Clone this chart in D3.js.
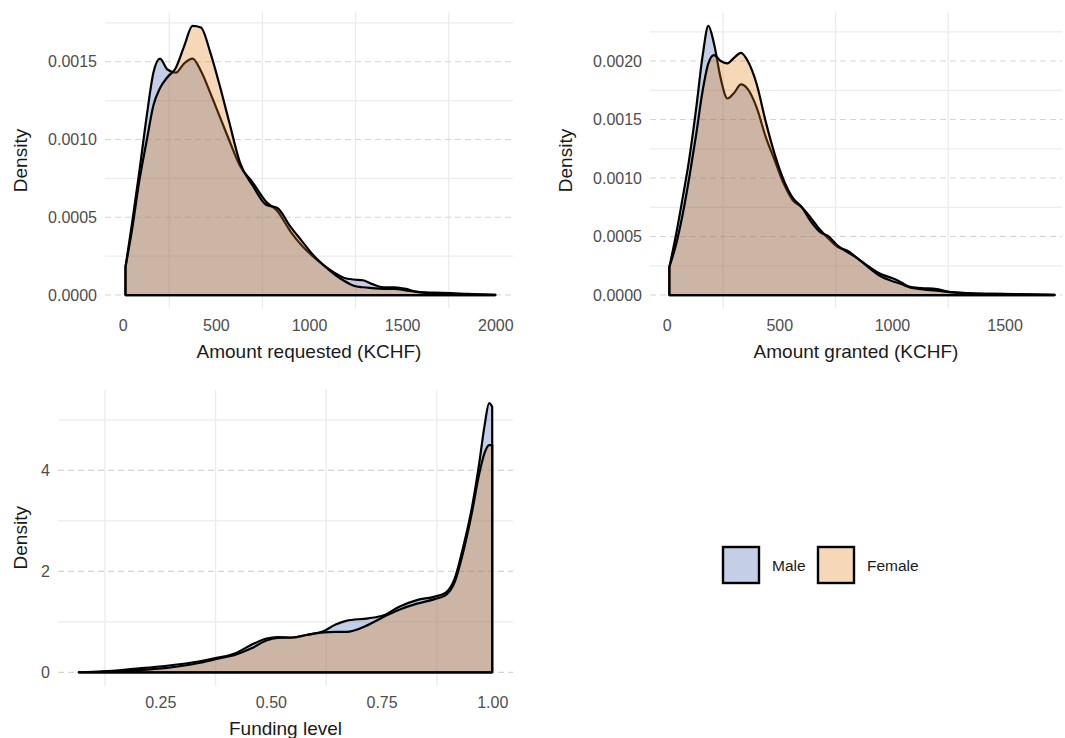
<!DOCTYPE html>
<html>
<head>
<meta charset="utf-8">
<script src="https://cdn.jsdelivr.net/npm/d3@7"></script>
<style>
  body { margin: 0; background: #fff; }
  text { font-family: "Liberation Sans", Arial, sans-serif; }
</style>
</head>
<body>
<script>
// Amount requested (KCHF) density, x grid + density (x 1e-4) per gender
var reqX = [15, 50, 90, 130, 165, 200, 240, 285, 330, 375, 420, 470, 520, 570, 630, 700, 770, 830, 900, 960, 1020, 1080, 1140, 1190, 1240, 1290, 1340, 1400, 1460, 1520, 1580, 1670, 1760, 1850, 2000];
var reqMale = [1.8, 4.6, 8.0, 11.6, 14.3, 15.2, 14.5, 14.3, 14.9, 15.2, 14.4, 13.0, 11.5, 10.0, 8.3, 7.2, 6.0, 5.4, 4.1, 3.2, 2.5, 1.9, 1.4, 1.1, 1.0, 0.95, 0.7, 0.5, 0.5, 0.4, 0.2, 0.15, 0.13, 0.07, 0.01];
var reqFemale = [1.8, 4.2, 7.4, 10.0, 12.2, 13.3, 14.0, 14.6, 16.0, 17.3, 17.2, 15.6, 13.5, 11.2, 8.5, 7.0, 5.8, 5.6, 4.4, 3.5, 2.6, 1.9, 1.3, 0.9, 0.6, 0.5, 0.45, 0.4, 0.4, 0.3, 0.2, 0.1, 0.06, 0.04, 0.01];

// Amount granted (KCHF)
var grantX = [12, 40, 70, 100, 130, 160, 185, 210, 240, 270, 300, 330, 360, 400, 440, 480, 520, 560, 600, 640, 680, 720, 760, 800, 850, 900, 950, 1000, 1040, 1080, 1130, 1200, 1260, 1350, 1450, 1550, 1722];
var grantMale = [2.4, 5.0, 8.2, 11.6, 15.8, 20.5, 23.0, 21.5, 18.5, 16.8, 17.3, 18.0, 17.6, 16.0, 13.5, 11.5, 9.5, 8.1, 7.5, 6.6, 5.6, 4.8, 4.1, 3.8, 3.1, 2.4, 1.8, 1.45, 1.1, 0.7, 0.6, 0.5, 0.25, 0.15, 0.1, 0.08, 0.02];
var grantFemale = [2.4, 4.2, 6.8, 10.0, 13.6, 17.5, 19.8, 20.5, 20.0, 19.8, 20.3, 20.7, 20.0, 18.0, 14.8, 12.0, 9.8, 8.3, 7.5, 6.3, 5.4, 5.0, 4.2, 3.7, 3.1, 2.3, 1.6, 1.2, 0.95, 0.65, 0.5, 0.38, 0.25, 0.14, 0.1, 0.06, 0.02];

// Funding level
var fundX = [0.066, 0.12, 0.19, 0.265, 0.34, 0.38, 0.42, 0.455, 0.49, 0.515, 0.55, 0.58, 0.62, 0.645, 0.67, 0.72, 0.755, 0.79, 0.83, 0.87, 0.895, 0.915, 0.935, 0.955, 0.97, 0.983, 0.993, 1.0];
var fundMale = [0, 0.02, 0.07, 0.13, 0.22, 0.29, 0.38, 0.54, 0.67, 0.70, 0.69, 0.74, 0.82, 0.94, 1.02, 1.07, 1.13, 1.30, 1.43, 1.50, 1.58, 1.85, 2.5, 3.3, 4.1, 4.9, 5.33, 5.26];
var fundFemale = [0, 0.01, 0.04, 0.09, 0.19, 0.27, 0.35, 0.47, 0.63, 0.68, 0.69, 0.74, 0.79, 0.80, 0.80, 0.94, 1.10, 1.24, 1.36, 1.45, 1.53, 1.78, 2.4, 3.2, 3.9, 4.35, 4.5, 4.5];

var genders = ["Male", "Female"];
var fills = { Male: "#3a5fae", Female: "#e07b12" };

var svg = d3.select("body").append("svg").attr("width", 1065).attr("height", 738);

function drawPanel(p) {
  var x = d3.scaleLinear().domain(p.xLim).range([p.left, p.right]);
  var ymax = d3.max(p.male.concat(p.female)) * p.yMul;
  var y = d3.scaleLinear().domain([-0.05 * ymax, 1.05 * ymax]).range([p.bottom, p.top]);
  var g = svg.append("g");

  // minor grid
  g.selectAll(".ymin").data(p.yMinor).enter().append("line")
    .attr("x1", p.left).attr("x2", p.right)
    .attr("y1", function (d) { return y(d); }).attr("y2", function (d) { return y(d); })
    .attr("stroke", "#ebebeb").attr("stroke-width", 1.3);
  g.selectAll(".xmin").data(p.xMinor).enter().append("line")
    .attr("y1", p.top).attr("y2", p.bottom)
    .attr("x1", function (d) { return x(d); }).attr("x2", function (d) { return x(d); })
    .attr("stroke", "#ebebeb").attr("stroke-width", 1.3);
  // major y grid, dashed
  g.selectAll(".ymaj").data(p.yTicks).enter().append("line")
    .attr("x1", p.left).attr("x2", p.right)
    .attr("y1", function (d) { return y(d); }).attr("y2", function (d) { return y(d); })
    .attr("stroke", "#d4d4d4").attr("stroke-width", 1.1).attr("stroke-dasharray", "6,4");

  var area = d3.area()
    .x(function (d) { return x(d[0]); })
    .y0(y(0))
    .y1(function (d) { return y(d[1]); })
    .curve(d3.curveMonotoneX);

  genders.forEach(function (k) {
    var vals = k === "Male" ? p.male : p.female;
    var pts = p.xs.map(function (v, i) { return [v, vals[i] * p.yMul]; });
    g.append("path").datum(pts)
      .attr("d", area)
      .attr("fill", fills[k]).attr("fill-opacity", 0.3)
      .attr("stroke", "#000").attr("stroke-width", 2.2)
      .attr("stroke-linejoin", "round");
  });

  // axes (ggplot-like, no lines)
  var xa = g.append("g").attr("transform", "translate(0," + p.bottom + ")")
    .call(d3.axisBottom(x).tickValues(p.xTicks).tickFormat(p.xFmt).tickSize(0).tickPadding(11));
  var ya = g.append("g").attr("transform", "translate(" + p.left + ",0)")
    .call(d3.axisLeft(y).tickValues(p.yTicks).tickFormat(p.yFmt).tickSize(0).tickPadding(8));
  [xa, ya].forEach(function (a) {
    a.select(".domain").remove();
    a.selectAll("text").attr("fill", "#4d4d4d").style("font-size", "16px")
      .style("font-family", "'Liberation Sans', Arial, sans-serif");
  });

  g.append("text")
    .attr("x", (p.left + p.right) / 2).attr("y", p.bottom + 43)
    .attr("text-anchor", "middle").attr("dominant-baseline", "central")
    .attr("fill", "#1a1a1a").style("font-size", "19px")
    .text(p.xTitle);
  g.append("text")
    .attr("transform", "translate(" + p.yTitleX + "," + (p.top + p.bottom) / 2 + ") rotate(-90)")
    .attr("text-anchor", "middle").attr("dominant-baseline", "central")
    .attr("fill", "#1a1a1a").style("font-size", "19px")
    .text("Density");
}

drawPanel({
  xs: reqX, male: reqMale, female: reqFemale, yMul: 1e-4,
  xLim: [-95, 2095], left: 105, right: 513, top: 12.5, bottom: 308.5,
  xTicks: [0, 500, 1000, 1500, 2000], xMinor: [250, 750, 1250, 1750],
  yTicks: [0, 0.0005, 0.001, 0.0015], yMinor: [0.00025, 0.00075, 0.00125, 0.00175],
  xFmt: d3.format("d"), yFmt: d3.format(".4f"),
  xTitle: "Amount requested (KCHF)", yTitleX: 20
});

drawPanel({
  xs: grantX, male: grantMale, female: grantFemale, yMul: 1e-4,
  xLim: [-74, 1755], left: 650, right: 1062, top: 12.5, bottom: 308.5,
  xTicks: [0, 500, 1000, 1500], xMinor: [250, 750, 1250],
  yTicks: [0, 0.0005, 0.001, 0.0015, 0.002], yMinor: [0.00025, 0.00075, 0.00125, 0.00175, 0.00225],
  xFmt: d3.format("d"), yFmt: d3.format(".4f"),
  xTitle: "Amount granted (KCHF)", yTitleX: 565
});

drawPanel({
  xs: fundX, male: fundMale, female: fundFemale, yMul: 1,
  xLim: [0.019, 1.047], left: 58, right: 513, top: 389.7, bottom: 685.8,
  xTicks: [0.25, 0.5, 0.75, 1.0], xMinor: [0.125, 0.375, 0.625, 0.875],
  yTicks: [0, 2, 4], yMinor: [1, 3, 5],
  xFmt: d3.format(".2f"), yFmt: d3.format("d"),
  xTitle: "Funding level", yTitleX: 20
});

// legend
var legend = svg.append("g").attr("transform", "translate(722,546)");
var lx = d3.scalePoint().domain(genders).range([0, 95]);
var item = legend.selectAll(".item").data(genders).enter().append("g")
  .attr("transform", function (d) { return "translate(" + lx(d) + ",0)"; });
item.append("rect")
  .attr("x", 1).attr("y", 1).attr("width", 36).attr("height", 36)
  .attr("fill", function (d) { return fills[d]; }).attr("fill-opacity", 0.3)
  .attr("stroke", "#000").attr("stroke-width", 2.4);
item.append("text")
  .attr("x", 50).attr("y", 19).attr("dominant-baseline", "central")
  .attr("fill", "#1a1a1a").style("font-size", "15.5px")
  .text(function (d) { return d; });
</script>
</body>
</html>
